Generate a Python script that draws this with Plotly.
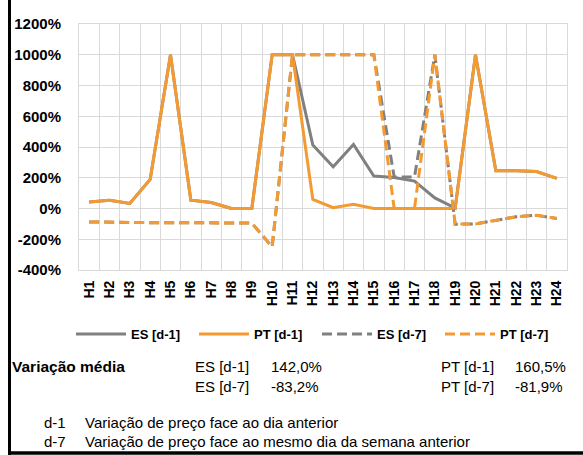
import plotly.graph_objects as go

hours = [f"H{i}" for i in range(1, 25)]

es_d1 = [43, 54, 33, 189, 1000, 54, 39, 0, 0, 1000, 1000, 413, 271, 417, 211, 202, 178, 69, 3, 1000, 245, 245, 240, 196]
pt_d1 = [43, 54, 33, 189, 1000, 54, 39, 0, 0, 1000, 1000, 59, 5, 28, 0, 0, 0, 0, 0, 1000, 245, 245, 240, 196]
es_d7 = [-87, -90, -92, -92, -92, -92, -92, -92, -95, -250, 1000, 1000, 1000, 1000, 1000, 205, 205, 1000, -102, -100, -76, -54, -44, -65]
pt_d7 = [-87, -90, -92, -92, -92, -92, -92, -92, -95, -250, 1000, 1000, 1000, 1000, 1000, 0, 0, 1000, -102, -100, -76, -54, -44, -65]

series_names = ["ES [d-1]", "PT [d-1]", "ES [d-7]", "PT [d-7]"]
y_ticks = [-400, -200, 0, 200, 400, 600, 800, 1000, 1200]

summary_label = "Variação média"
summary_left = [("ES [d-1]", "142,0%"), ("ES [d-7]", "-83,2%")]
summary_right = [("PT [d-1]", "160,5%"), ("PT [d-7]", "-81,9%")]
notes = [("d-1", "Variação de preço face ao dia anterior"),
         ("d-7", "Variação de preço face ao mesmo dia da semana anterior")]

ORANGE = "#F39A33"
GRAY = "#808080"
FONT = "Liberation Sans, Arial, sans-serif"

W, H = 583, 455
L, R, T, B = 79, 567, 24, 270


def xp(px):
    return (px - L) / (R - L)


def yp(py):
    return (B - py) / (B - T)


fig = go.Figure()
styles = [(GRAY, "solid"), (ORANGE, "solid"), (GRAY, "10px,5px"), (ORANGE, "10px,5px")]
for name, vals, (col, dash) in zip(series_names, [es_d1, pt_d1, es_d7, pt_d7], styles):
    fig.add_trace(go.Scatter(x=hours, y=vals, name=name, mode="lines",
                             line=dict(color=col, width=3, dash=dash)))

annotations = []


def add_text(txt, x, y, size=15, bold=False):
    annotations.append(dict(text=f"<b>{txt}</b>" if bold else txt, x=xp(x), y=yp(y),
                            xref="paper", yref="paper", xanchor="left", yanchor="middle",
                            showarrow=False, font=dict(family=FONT, size=size, color="black")))


add_text(summary_label, 10, 366, size=15.5, bold=True)
rows_y = [366, 386]
for (lab, val), yy in zip(summary_left, rows_y):
    add_text(lab, 193, yy)
    add_text(val, 269, yy)
for (lab, val), yy in zip(summary_right, rows_y):
    add_text(lab, 439, yy)
    add_text(val, 513, yy)
for (lab, txt), yy in zip(notes, [422, 441]):
    add_text(lab, 42, yy)
    add_text(txt, 83, yy)

shapes = [
    dict(type="line", xref="paper", yref="paper", x0=xp(9.5), x1=xp(9.5), y0=yp(0), y1=yp(455),
         line=dict(color="black", width=3)),
    dict(type="line", xref="paper", yref="paper", x0=xp(8), x1=xp(583), y0=yp(453), y1=yp(453),
         line=dict(color="black", width=3.5)),
]

fig.update_layout(
    width=W, height=H,
    margin=dict(l=L, r=W - R, t=T, b=H - B, pad=0),
    paper_bgcolor="white", plot_bgcolor="white",
    font=dict(family=FONT, color="black"),
    showlegend=True,
    legend=dict(orientation="h", x=xp(71), y=yp(334), xanchor="left",
                yanchor="middle", itemwidth=50,
                font=dict(family=FONT, size=13, color="black", weight="bold"),
                entrywidth=58, entrywidthmode="pixels", traceorder="normal",
                bgcolor="rgba(0,0,0,0)"),
    xaxis=dict(type="category", range=[-0.5, 23.5], tickson="boundaries", showgrid=True,
               gridcolor="#d9d9d9", gridwidth=1, showline=True, linecolor="#d9d9d9",
               mirror=True, ticks="", tickangle=-90,
               tickfont=dict(family=FONT, size=14, color="black", weight="bold"),
               ticklabelstandoff=4),
    yaxis=dict(range=[-400, 1200], tickvals=y_ticks, ticktext=[f"{v}%" for v in y_ticks],
               showgrid=True, gridcolor="#d9d9d9", gridwidth=1, zeroline=False,
               showline=True, linecolor="#d9d9d9", mirror=True, ticks="",
               tickfont=dict(family=FONT, size=15, color="black", weight="bold"),
               ticklabelstandoff=14),
    annotations=annotations,
    shapes=shapes,
)

fig.write_html("out.html", config={"displayModeBar": False},
               post_script="document.body.style.margin='0';document.body.style.overflow='hidden';")
